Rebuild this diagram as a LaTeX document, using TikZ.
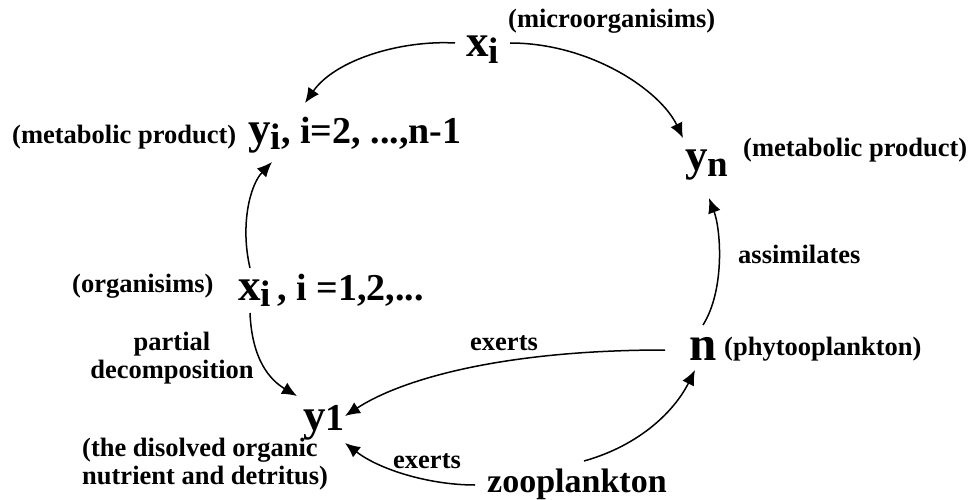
\documentclass[tikz,border=0pt]{standalone}
\usepackage{fontspec}
\setmainfont{Liberation Serif}
\usetikzlibrary{arrows.meta}
\newcommand\lett[1]{{\fontsize{45}{45}\selectfont #1}}
\newcommand\subs[1]{\raisebox{-0.18em}{\fontsize{37}{37}\selectfont #1}}
\begin{document}
\begin{tikzpicture}[x=1pt,y=-1pt,
  small/.style={font=\fontsize{26.5}{28}\selectfont\bfseries, inner sep=0pt, anchor=base west},
  med/.style={font=\fontsize{38}{40}\selectfont\bfseries, inner sep=0pt, anchor=base west},
  zoo/.style={font=\fontsize{34}{36}\selectfont\bfseries, inner sep=0pt, anchor=base west},
  arr/.style={-{Latex[length=15pt,width=13pt]}, line width=1.5pt}]
\useasboundingbox (0,0) rectangle (974,500);
% labels and letters
\node[small] (micro) at (508,28) {(microorganisims)};
\node[med] (xt) at (466,57) {\lett{x}\subs{i}};
\node[small] (ml) at (12,143) {(metabolic product)};
\node[med] (yi) at (248,143) {\lett{y}\subs{i}};
\node[med] (yir) at (yi.base east) {, i=2, ...,n-1};
\node[med] (yn) at (685,170) {\lett{y}\subs{n}};
\node[small] (mr) at (743,157) {(metabolic product)};
\node[small] (assim) at (738,263) {assimilates};
\node[small] (org) at (72,292) {(organisims)};
\node[med] (xm) at (238,300) {\lett{x}\subs{i}};
\node[med] (xmr) at (xm.base east) {\,, i =1,2,...};
\node[small, anchor=center, align=center] (part) at (172,358) {partial\\decomposition};
\node[small] (ex1) at (470,350) {exerts};
\node[med] (n) at (689,360) {{\fontsize{49}{49}\selectfont n}};
\node[small] (phyto) at (724,355) {(phytooplankton)};
\node[med] (y1) at (303,430) {\lett{y}1};
\node[small, anchor=north west, align=left] (dis) at (82,438) {(the disolved organic\\nutrient and detritus)};
\node[small] (ex2) at (393,468) {exerts};
\node[zoo] (zp) at (487,492) {zooplankton};
% connectors
\draw[arr] ([shift={(-11,-14)}]xt.base west) .. controls +(-55,-3) and +(30,-43) .. ([shift={(57,-40)}]yi.base west);
\draw[arr] ([shift={(44,-14)}]xt.base west) .. controls +(80,0) and +(-23,-48) .. ([shift={(-2,-32)}]yn.base west);
\draw[arr] ([shift={(12,-32)}]xm.base west) .. controls +(-10,-43) and +(-22,23) .. ([shift={(24,19)}]yi.base west);
\draw[arr] ([shift={(12,13)}]xm.base west) .. controls +(2,47) and +(-27,-16) .. ([shift={(-6,-34)}]y1.base west);
\draw[arr] ([shift={(14,-35)}]n.base west) .. controls +(22,-35) and +(12,32) .. ([shift={(24,28)}]yn.base west);
\draw[arr] ([shift={(-24,-10)}]n.base west) .. controls +(-165,0) and +(55,-36) .. ([shift={(42,-14)}]y1.base west);
\draw[arr] ([shift={(97,-31)}]zp.base west) .. controls +(57,-16) and +(-20,40) .. ([shift={(6,10)}]n.base west);
\draw[arr] ([shift={(-12,-7)}]zp.base west) .. controls +(-45,0) and +(35,27) .. ([shift={(42,13)}]y1.base west);
\end{tikzpicture}
\end{document}
